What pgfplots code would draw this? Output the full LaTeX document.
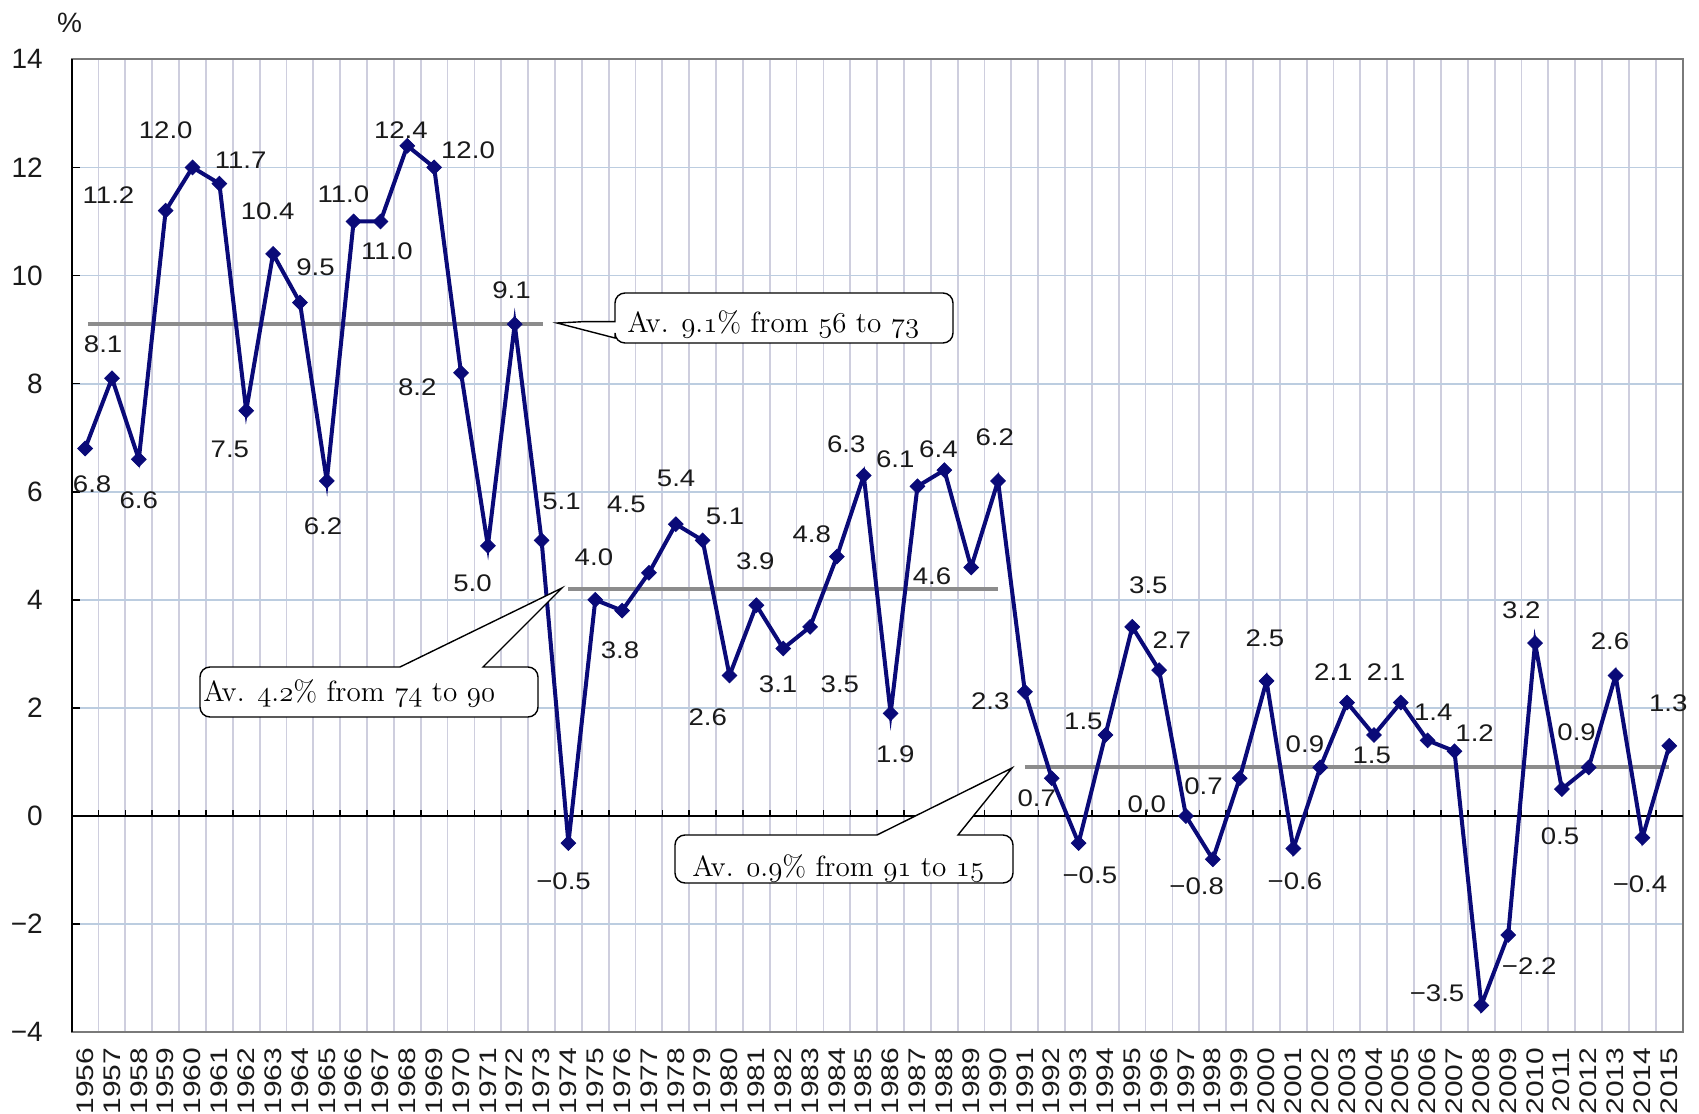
\documentclass[border=0pt]{standalone}
\usepackage{fontspec}
\setsansfont{Liberation Sans}
\renewcommand{\familydefault}{\sfdefault}
\usepackage{graphicx}
\usepackage{pgfplots}
\pgfplotsset{compat=1.18}

\definecolor{serieblue}{HTML}{0A0A78}
\definecolor{avggray}{HTML}{8C8C8C}
\definecolor{vgrid}{HTML}{CECEDE}
\definecolor{hgrid}{HTML}{BCCDE0}
\definecolor{framegray}{HTML}{7A7A7A}
\definecolor{labtext}{HTML}{1A1A1A}

\tikzset{lbl/.style={font=\fontsize{12}{12}\selectfont, text=labtext, inner sep=0pt, anchor=center}}
% value label: slightly widened sans digits
\newcommand{\dl}[3]{\node[lbl] at (axis cs:#1,#2) {\scalebox{1.15}[1]{#3}};}
% old-style figures taken from the math italic font
\newcommand{\osf}[1]{\ensuremath{\mathnormal{#1}}}

\begin{document}
\begin{tikzpicture}
\begin{axis}[
  scale only axis,
  width=805.5pt, height=486.5pt,
  xmin=1955.5, xmax=2015.5,
  ymin=-4, ymax=14,
  axis line style={draw=framegray, line width=0.8pt},
  xtick={1956,...,2015},
  xticklabel={\scalebox{1.25}[1]{\pgfmathprintnumber[fixed,precision=0,1000 sep={},assume math mode=true]{\tick}}},
  xticklabel style={rotate=90, anchor=east, inner xsep=7.5pt, inner ysep=0pt,
    font=\fontsize{12}{12}\selectfont, text=labtext},
  major x tick style={draw=none},
  minor xtick={1955.5,1956.5,...,2015.5},
  minor x tick style={draw=none},
  xminorgrids=true,
  minor x grid style={draw=vgrid, line width=0.9pt},
  ytick={-4,-2,...,14},
  yticklabels={−4,−2,0,2,4,6,8,10,12,14},
  ymajorgrids=true,
  major y grid style={draw=hgrid, line width=0.9pt},
  ytick pos=left,
  tick align=inside,
  major tick length=4pt,
  y tick style={black, line width=0.8pt},
  yticklabel style={anchor=east, inner sep=0pt, xshift=-14.3pt,
    font=\fontsize{14}{14}\selectfont, text=labtext},
  clip=false,
]
% value axis and zero line with category ticks
\draw[black, line width=1pt] (axis cs:1955.5,-4) -- (axis cs:1955.5,14);
\draw[black, line width=0.9pt] (axis cs:1955.5,0) -- (axis cs:2015.5,0);
\pgfplotsinvokeforeach{1956.5,1957.5,...,2014.5}{
  \draw[black, line width=0.8pt] (axis cs:#1,0) -- (axis cs:#1,0.12);
}

% period averages
\addplot[avggray, line width=2pt] coordinates {(1956.1,9.1) (1973.05,9.1)};
\addplot[avggray, line width=2pt] coordinates {(1974,4.2) (1990,4.2)};
\addplot[avggray, line width=2pt] coordinates {(1991,0.9) (2015,0.9)};

% real GDP growth, %
\addplot[serieblue, line width=2pt, mark=square*, mark size=2.6pt,
  mark options={rotate=45, fill=serieblue, draw=serieblue, line width=0.4pt}]
  coordinates {
  (1956,6.8) (1957,8.1) (1958,6.6) (1959,11.2) (1960,12.0) (1961,11.7)
  (1962,7.5) (1963,10.4) (1964,9.5) (1965,6.2) (1966,11.0) (1967,11.0)
  (1968,12.4) (1969,12.0) (1970,8.2) (1971,5.0) (1972,9.1) (1973,5.1)
  (1974,-0.5) (1975,4.0) (1976,3.8) (1977,4.5) (1978,5.4) (1979,5.1)
  (1980,2.6) (1981,3.9) (1982,3.1) (1983,3.5) (1984,4.8) (1985,6.3)
  (1986,1.9) (1987,6.1) (1988,6.4) (1989,4.6) (1990,6.2) (1991,2.3)
  (1992,0.7) (1993,-0.5) (1994,1.5) (1995,3.5) (1996,2.7) (1997,0.0)
  (1998,-0.8) (1999,0.7) (2000,2.5) (2001,-0.6) (2002,0.9) (2003,2.1)
  (2004,1.5) (2005,2.1) (2006,1.4) (2007,1.2) (2008,-3.5) (2009,-2.2)
  (2010,3.2) (2011,0.5) (2012,0.9) (2013,2.6) (2014,-0.4) (2015,1.3)
  };

% value labels
\dl{1956.26}{6.14}{6.8}
\dl{1956.67}{8.72}{8.1}
\dl{1958.0}{5.84}{6.6}
\dl{1956.87}{11.49}{11.2}
\dl{1959.0}{12.69}{12.0}
\dl{1961.79}{12.13}{11.7}
\dl{1961.39}{6.78}{7.5}
\dl{1962.8}{11.19}{10.4}
\dl{1964.58}{10.15}{9.5}
\dl{1964.86}{5.36}{6.2}
\dl{1965.62}{11.51}{11.0}
\dl{1967.24}{10.45}{11.0}
\dl{1967.76}{12.69}{12.4}
\dl{1970.26}{12.31}{12.0}
\dl{1968.37}{7.94}{8.2}
\dl{1971.88}{9.72}{9.1}
\dl{1970.43}{4.31}{5.0}
\dl{1973.74}{5.82}{5.1}
\dl{1973.82}{-1.21}{−0.5}
\dl{1974.95}{4.78}{4.0}
\dl{1976.16}{5.76}{4.5}
\dl{1975.92}{3.07}{3.8}
\dl{1978.01}{6.24}{5.4}
\dl{1979.83}{5.54}{5.1}
\dl{1979.19}{1.83}{2.6}
\dl{1980.96}{4.72}{3.9}
\dl{1981.81}{2.43}{3.1}
\dl{1983.06}{5.22}{4.8}
\dl{1984.11}{2.43}{3.5}
\dl{1984.35}{6.88}{6.3}
\dl{1986.17}{6.6}{6.1}
\dl{1987.78}{6.78}{6.4}
\dl{1986.17}{1.15}{1.9}
\dl{1989.88}{7.0}{6.2}
\dl{1987.54}{4.43}{4.6}
\dl{1989.71}{2.12}{2.3}
\dl{1993.18}{1.75}{1.5}
\dl{1991.44}{0.33}{0.7}
\dl{1993.42}{-1.09}{−0.5}
\dl{1995.6}{4.27}{3.5}
\dl{1996.47}{3.26}{2.7}
\dl{1995.54}{0.22}{0.0}
\dl{1997.65}{0.55}{0.7}
\dl{1997.4}{-1.3}{−0.8}
\dl{1999.94}{3.29}{2.5}
\dl{2001.43}{1.32}{0.9}
\dl{2001.06}{-1.21}{−0.6}
\dl{2002.49}{2.67}{2.1}
\dl{2004.45}{2.67}{2.1}
\dl{2003.92}{1.13}{1.5}
\dl{2006.21}{1.93}{1.4}
\dl{2007.75}{1.53}{1.2}
\dl{2009.49}{3.81}{3.2}
\dl{2011.55}{1.56}{0.9}
\dl{2010.93}{-0.38}{0.5}
\dl{2012.79}{3.23}{2.6}
\dl{2014.96}{2.09}{1.3}
\dl{2013.91}{-1.27}{−0.4}
\dl{2006.35}{-3.27}{−3.5}
\dl{2009.78}{-2.78}{−2.2}
\end{axis}

% callouts and unit, in a pixel-like frame (origin top left)
\begin{scope}[x=0.5pt, y=-0.5pt, shift={(-35.85pt,516.15pt)}]
  \node[font=\fontsize{14}{14}\selectfont, text=labtext, inner sep=0pt] at (69.5,22.5) {\%};

  \draw[fill=white, draw=black, line width=0.7pt]
    (615,321.7) [rounded corners=5pt] -- (615,293) -- (953,293) -- (953,343) -- (615,343)
    [sharp corners] -- (615,338) -- (557,323) -- (583,321.7) -- cycle;
  \node[anchor=base west, inner sep=0pt, font=\rmfamily\fontsize{14.6}{14.6}\selectfont]
    at (627,333) {Av. \osf{9.1}\% from \osf{56} to \osf{73}};

  \draw[fill=white, draw=black, line width=0.7pt]
    (200,690) [rounded corners=5pt] -- (200,667) [sharp corners] -- (400,667) -- (562,588) -- (483,667)
    [rounded corners=5pt] -- (538,667) -- (538,717) -- (200,717) -- cycle;
  \node[anchor=base west, inner sep=0pt, font=\rmfamily\fontsize{14.6}{14.6}\selectfont]
    at (203,702) {Av. \osf{4.2}\% from \osf{74} to \osf{90}};

  \draw[fill=white, draw=black, line width=0.7pt]
    (675,860) [rounded corners=5pt] -- (675,835) [sharp corners] -- (877,835) -- (1012,768) -- (958,835)
    [rounded corners=5pt] -- (1013,835) -- (1013,883) -- (675,883) -- cycle;
  \node[anchor=base west, inner sep=0pt, font=\rmfamily\fontsize{14.6}{14.6}\selectfont]
    at (692,877) {Av. \osf{0.9}\% from \osf{91} to \osf{15}};

  \pgfresetboundingbox
  \path[use as bounding box] (0,0) rectangle (1699,1114);
\end{scope}
\end{tikzpicture}
\end{document}
